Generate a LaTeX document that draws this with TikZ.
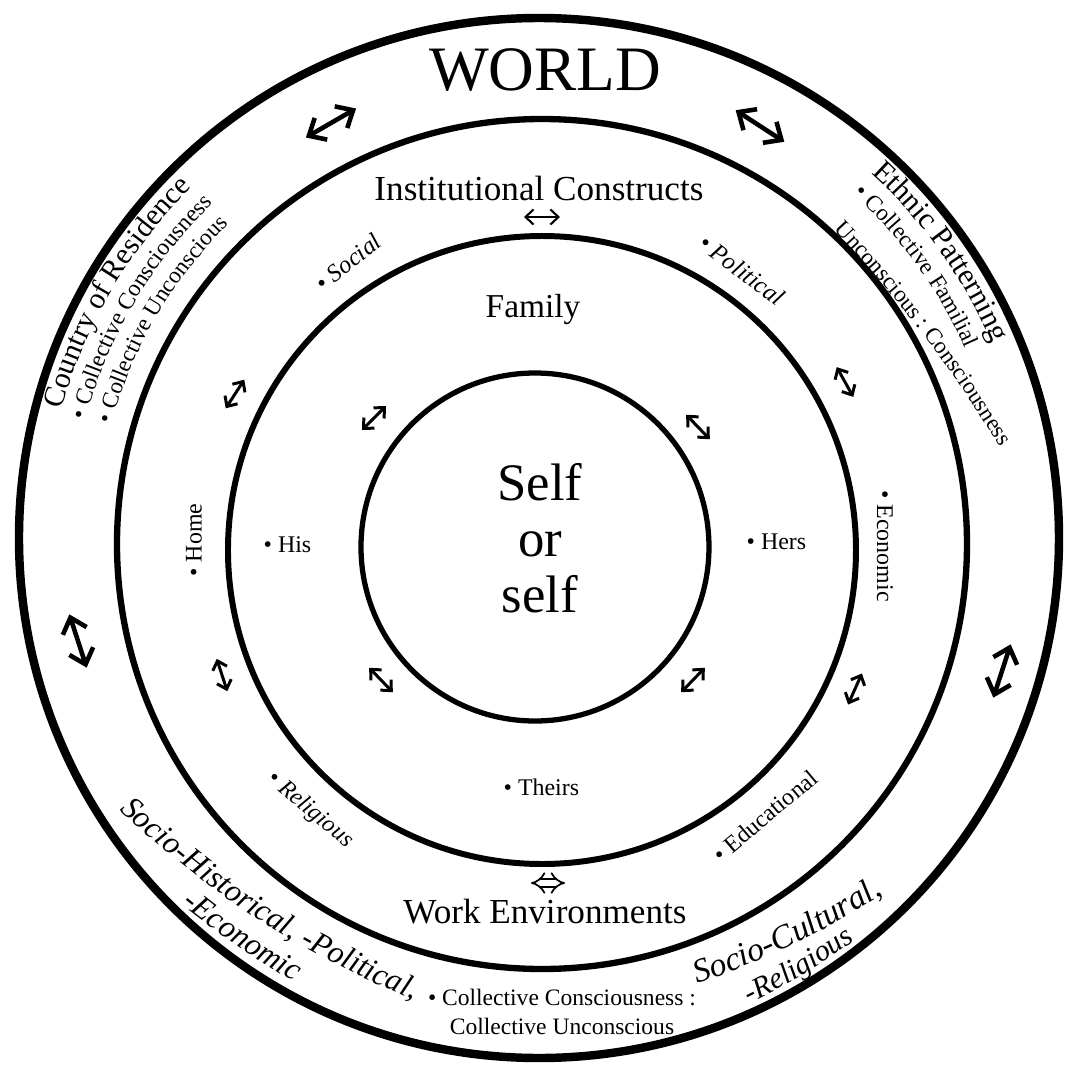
\documentclass[tikz,border=0pt]{standalone}
\usepackage{fontspec}
\setmainfont{Liberation Serif}
\usetikzlibrary{arrows.meta, decorations.text}

\begin{document}
\begin{tikzpicture}[
    bigarrow/.style={{Straight Barb[length=1.4mm,width=2.5mm]}-{Straight Barb[length=1.4mm,width=2.5mm]}, line width=1.3pt},
    smallarrow/.style={{Straight Barb[length=0.8mm,width=1.5mm]}-{Straight Barb[length=0.8mm,width=1.5mm]}, line width=0.85pt},
    openarrow/.style={double, double distance=1.6pt, line width=0.5pt, {Implies}-{Implies}},
    ringname/.style={font=\fontsize{10}{12}\selectfont, inner sep=0pt},
    item/.style={font=\fontsize{6.8}{8}\selectfont, inner sep=0pt},
    curved/.style={decorate, decoration={text along path, text align=center, text={#1}}}
]
\useasboundingbox (-5.37,-5.30) rectangle (5.32,5.40);
\fill[white] (-5.37,-5.30) rectangle (5.32,5.40);

% Circles
\draw[line width=2.4pt] (0.02,0.02) circle (5.20);
\draw[line width=1.8pt] (0.05,-0.04) circle (4.25);
\draw[line width=1.7pt] (0.05,-0.10) circle (3.14);
\draw[line width=1.5pt] (-0.02,-0.07) circle (1.74);

% Nodes
\node (world) [font=\fontsize{18}{20}\selectfont, inner sep=0pt] at (0.08,4.70) {WORLD};
\node (inst) [ringname] at (0.02,3.52) {Institutional Constructs};
\node (family) [ringname, font=\fontsize{9.5}{11}\selectfont] at (-0.04,2.30) {Family};
\node (self) [font=\fontsize{15}{16}\selectfont, align=center] at (0.03,0.02) {Self\\or\\self};
\node (work) [ringname] at (0.08,-3.72) {Work Environments};

\node (his) [item, anchor=west] at (-2.74,-0.05) {\textbullet\ His};
\node (hers) [item, anchor=west] at (2.09,-0.02) {\textbullet\ Hers};
\node (theirs) [item, anchor=west] at (-0.34,-2.47) {\textbullet\ Theirs};

\node (home) [item, rotate=90] at (-3.43,0.00) {\textbullet\ Home};
\node (econ) [item, rotate=-90] at (3.48,-0.06) {\textbullet\ Economic};
\node (social) [item, font=\fontsize{7}{8}\selectfont\itshape, rotate=38] at (-1.89,2.78) {\textbullet\ Social};
\node (political) [item, font=\fontsize{7}{8}\selectfont\itshape, rotate=-37] at (2.05,2.70) {\textbullet\ Political};
\node (religious) [item, font=\fontsize{6.8}{8}\selectfont\itshape, rotate=-40] at (-2.27,-2.70) {\textbullet\ Religious};
\node (educ) [item, rotate=40] at (2.28,-2.76) {\textbullet\ Educational};

\node (collective) [item, font=\fontsize{6.7}{8.5}\selectfont, align=center] at (0.25,-4.72)
    {\textbullet\ Collective Consciousness :\\Collective Unconscious};

% Curved labels
\path[curved={|\fontsize{8.5}{10}\selectfont|Country of Residence}] (172:4.93) arc[start angle=172, end angle=127, radius=4.93];
\path[curved={|\fontsize{6.7}{8}\selectfont|• Collective Consciousness}] (172:4.67) arc[start angle=172, end angle=127, radius=4.67];
\path[curved={|\fontsize{6.6}{8}\selectfont|• Collective Unconscious}] (172:4.41) arc[start angle=172, end angle=127, radius=4.41];

\path[curved={|\fontsize{8.6}{10}\selectfont|Ethnic Patterning}] (52:4.96) arc[start angle=52, end angle=19, radius=4.96];
\path[curved={|\fontsize{6.6}{8}\selectfont|• Collective Familial}] (52:4.69) arc[start angle=52, end angle=19.6, radius=4.69];
\path[curved={|\fontsize{6.6}{8}\selectfont|Unconscious : Consciousness}] (49:4.31) to[bend left=6] (9:4.80);

\path[curved={|\fontsize{9}{11}\selectfont\itshape|Socio-Historical, -Political,}] (211:5.02) to[bend right=10] (257:4.79);
\path[curved={|\fontsize{9}{11}\selectfont\itshape|-Economic}] (221:5.14) to[bend right=6] (246:5.06);
\path[curved={|\fontsize{9.5}{11}\selectfont\itshape|Socio-Cultural,}] (286:4.72) to[bend right=8] (318:5.02);
\path[curved={|\fontsize{8.5}{10}\selectfont\itshape|-Religious}] (290:5.12) to[bend right=6] (313:5.15);

% Arrows
\draw[bigarrow] (-2.06,4.17) ++(30:-0.29) -- ++(30:0.58);
\draw[bigarrow] (2.23,4.14) ++(-33:-0.29) -- ++(-33:0.58);
\draw[bigarrow] (-4.59,-1.01) ++(-72:-0.28) -- ++(-72:0.56);
\draw[bigarrow] (4.65,-1.31) ++(72:-0.28) -- ++(72:0.56);

\draw[smallarrow] (-3.02,1.46) ++(57:-0.17) -- ++(57:0.34);
\draw[smallarrow] (3.08,1.58) ++(-61:-0.17) -- ++(-61:0.34);
\draw[smallarrow] (-3.15,-1.35) ++(-72:-0.17) -- ++(-72:0.34);
\draw[smallarrow] (3.18,-1.49) ++(66:-0.17) -- ++(66:0.34);

\draw[smallarrow] (-1.63,1.22) ++(45:-0.17) -- ++(45:0.34);
\draw[smallarrow] (1.61,1.13) ++(-46:-0.17) -- ++(-46:0.34);
\draw[smallarrow] (-1.56,-1.40) ++(-46:-0.17) -- ++(-46:0.34);
\draw[smallarrow] (1.56,-1.40) ++(46:-0.17) -- ++(46:0.34);

\draw[smallarrow, line width=0.6pt] (-0.13,3.23) -- (0.23,3.23);
\draw[openarrow] (-0.06,-3.43) -- (0.28,-3.43);

\end{tikzpicture}
\end{document}
